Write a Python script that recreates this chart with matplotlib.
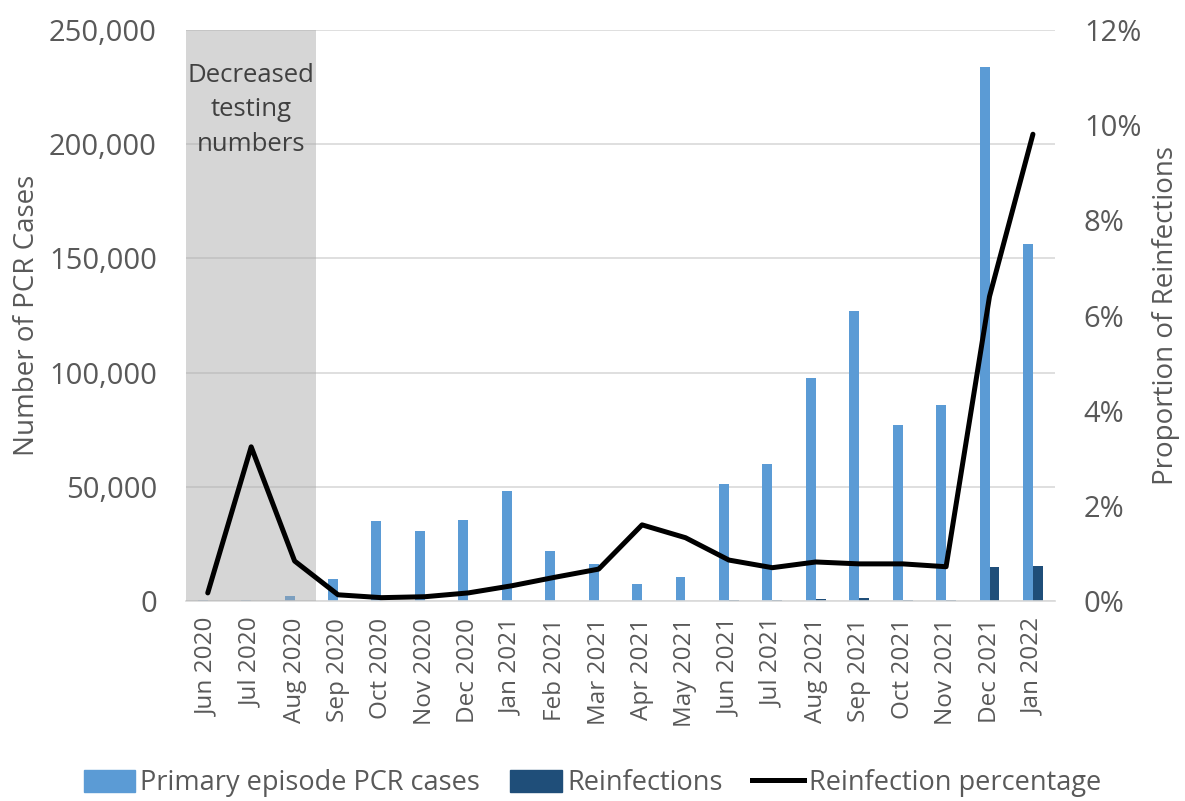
import numpy as np
import matplotlib.pyplot as plt
from matplotlib.ticker import FuncFormatter, PercentFormatter
from matplotlib.lines import Line2D
from matplotlib.patches import Patch

plt.rcParams['font.family'] = ['Open Sans', 'DejaVu Sans']

# monthly data
meses = ['Jun 2020', 'Jul 2020', 'Aug 2020', 'Sep 2020', 'Oct 2020', 'Nov 2020',
         'Dec 2020', 'Jan 2021', 'Feb 2021', 'Mar 2021', 'Apr 2021', 'May 2021',
         'Jun 2021', 'Jul 2021', 'Aug 2021', 'Sep 2021', 'Oct 2021', 'Nov 2021',
         'Dec 2021', 'Jan 2022']
casos_primarios = [400, 500, 2000, 9800, 35200, 30700, 35600, 48100, 21900, 16200,
                   7400, 10400, 51100, 60000, 97700, 127000, 77000, 86000,
                   233800, 156200]
reinfeccoes = [0, 0, 0, 0, 100, 100, 100, 150, 100, 100, 100, 150, 400, 400,
               800, 1100, 500, 600, 14900, 15400]
percentagem = [0.17, 3.24, 0.84, 0.13, 0.07, 0.09, 0.17, 0.32, 0.50, 0.67,
               1.60, 1.33, 0.86, 0.70, 0.82, 0.78, 0.78, 0.72, 6.40, 9.81]

cinza = '#595959'
x = np.arange(len(meses))
largura = 0.23

fig = plt.figure(figsize=(11.85, 8.01), dpi=100)
ax1 = fig.add_axes([0.157, 0.2497, 0.733, 0.7128])

ax1.bar(x - largura / 2, casos_primarios, largura, color='#5b9bd5', zorder=2)
ax1.bar(x + largura / 2, reinfeccoes, largura, color='#1f4e79', zorder=2)

# shaded period with low testing
ax1.axvspan(-0.5, 2.5, color='#a6a6a6', alpha=0.45, lw=0, zorder=3)
ax1.text(1.0, 215000, 'Decreased\ntesting\nnumbers', ha='center', va='center',
         fontsize=18.5, color='#404040', linespacing=1.5, zorder=4)

ax1.set_xlim(-0.5, len(meses) - 0.5)
ax1.set_ylim(0, 250000)
ax1.set_yticks(np.arange(0, 250001, 50000))
ax1.yaxis.set_major_formatter(FuncFormatter(lambda v, p: f'{int(v):,}'))
ax1.grid(axis='y', color='#d9d9d9', lw=1.2, zorder=0)
ax1.set_axisbelow(True)
ax1.set_xticks(x)
ax1.set_xticklabels(meses, rotation=90, fontsize=17.5, color=cinza)
ax1.tick_params(axis='x', length=0, pad=12)
ax1.tick_params(axis='y', length=0, pad=21, labelsize=21, labelcolor=cinza)
ax1.set_ylabel('Number of PCR Cases', fontsize=20, color=cinza, labelpad=6)
for s in ['top', 'left', 'right']:
    ax1.spines[s].set_visible(False)
ax1.spines['bottom'].set_color('#d9d9d9')
ax1.spines['bottom'].set_linewidth(1.2)

ax2 = ax1.twinx()
ax2.plot(x, percentagem, color='black', lw=3.6, solid_joinstyle='round',
         solid_capstyle='round', zorder=5)
ax2.set_ylim(0, 12)
ax2.set_yticks(np.arange(0, 13, 2))
ax2.yaxis.set_major_formatter(PercentFormatter(decimals=0))
ax2.tick_params(axis='y', length=0, pad=21, labelsize=21, labelcolor=cinza)
ax2.set_ylabel('Proportion of Reinfections', fontsize=20, color=cinza, labelpad=8)
for s in ax2.spines.values():
    s.set_visible(False)

handles = [Patch(color='#5b9bd5'), Patch(color='#1f4e79'),
           Line2D([], [], color='black', lw=3.6)]
fig.legend(handles, ['Primary episode PCR cases', 'Reinfections', 'Reinfection percentage'],
           loc='lower center', bbox_to_anchor=(0.50, -0.026), ncol=3, frameon=False,
           fontsize=19.5, labelcolor=cinza, handlelength=1.9, handleheight=0.9,
           handletextpad=0.2, columnspacing=1.1)

fig.savefig('out.png', dpi=100)
